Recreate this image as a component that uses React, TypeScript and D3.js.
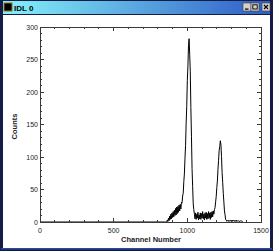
import React, {useEffect, useRef} from 'react';
import * as d3 from 'd3';

// spectrum: counts per channel, sampled every 4 channels from startChannel
const startChannel = 848;
const channelStep = 4;
const counts = [
  0, 0, 0, 0, 3, 1, 6, 2, 9, 4, 12, 5, 14, 7, 16, 8, 18, 10, 21, 11,
  23, 13, 24, 15, 26, 17, 27, 20, 30, 29, 40, 44, 62, 74, 98, 118, 152, 178, 218, 240,
  272, 282, 258, 232, 176, 132, 82, 55, 28, 19, 12, 5, 14, 4, 12, 6, 15, 3, 11, 5,
  14, 4, 13, 6, 16, 5, 12, 3, 14, 6, 15, 4, 13, 5, 16, 6, 14, 4, 15, 7,
  16, 8, 17, 12, 19, 22, 31, 39, 53, 63, 81, 95, 110, 116, 125, 119, 101, 76, 61, 44,
  31, 17, 11, 4, 3, 1, 2, 3, 1, 2, 1, 3, 2, 1, 3, 1, 2, 3, 1, 2,
  1, 3, 1, 2, 1, 2, 1, 1, 2, 1, 2, 1, 0,
];

const xTicks = [0, 500, 1000, 1500];
const yTicks = [0, 50, 100, 150, 200, 250, 300];
const xMinor = [100, 200, 300, 400, 600, 700, 800, 900, 1100, 1200, 1300, 1400];
const yMinor = [10, 20, 30, 40, 60, 70, 80, 90, 110, 120, 130, 140, 160, 170, 180, 190, 210, 220, 230, 240, 260, 270, 280, 290];

const windowTitle = 'IDL 0';
const xTitle = 'Channel Number';
const yTitle = 'Counts';

export default function App() {
  const svgRef = useRef(null);

  useEffect(() => {
    const svg = d3.select(svgRef.current);
    svg.selectAll('*').remove();
    const W = 273, H = 251;

    // window frame
    const defs = svg.append('defs');
    const grad = defs.append('linearGradient').attr('id', 'tb').attr('x1', 0).attr('x2', 1).attr('y1', 0).attr('y2', 0);
    grad.append('stop').attr('offset', '0%').attr('stop-color', '#84f2fa');
    grad.append('stop').attr('offset', '100%').attr('stop-color', '#2f5cc6');

    svg.append('rect').attr('width', W).attr('height', H).attr('fill', '#141d48');
    svg.append('rect').attr('x', 3).attr('y', 1).attr('width', W - 6).attr('height', 13).attr('fill', 'url(#tb)');
    svg.append('rect').attr('x', 3).attr('y', 15).attr('width', W - 6).attr('height', 233).attr('fill', '#fff');
    svg.append('rect').attr('x', 1).attr('y', 248).attr('width', W - 2).attr('height', 1.5).attr('fill', '#2c4a9c');

    // icon + title
    svg.append('rect').attr('x', 4).attr('y', 3).attr('width', 8).attr('height', 8).attr('fill', '#000').attr('stroke', '#a06a20').attr('stroke-width', 1);
    svg.append('text').attr('x', 14).attr('y', 11).attr('font-family', 'Liberation Sans, Arial, sans-serif')
      .attr('font-size', 8).attr('font-weight', 'bold').attr('fill', '#000').text(windowTitle);

    // title buttons
    const btns = [243, 251, 262];
    btns.forEach((bx, i) => {
      const g = svg.append('g').attr('transform', `translate(${bx},3)`);
      g.append('rect').attr('width', 8).attr('height', 8).attr('fill', '#d4d0c8').attr('stroke', '#404040').attr('stroke-width', 0.6);
      if (i === 0) g.append('rect').attr('x', 2).attr('y', 5.5).attr('width', 3.5).attr('height', 1.2).attr('fill', '#000');
      if (i === 1) g.append('rect').attr('x', 1.8).attr('y', 1.8).attr('width', 4.4).attr('height', 4.2).attr('fill', 'none').attr('stroke', '#000').attr('stroke-width', 0.9);
      if (i === 2) g.append('path').attr('d', 'M2,2L6,6M6,2L2,6').attr('stroke', '#000').attr('stroke-width', 1.1);
    });

    // plot
    const m = {l: 40, r: 261, t: 27, b: 222};
    const x = d3.scaleLinear().domain([0, 1500]).range([m.l, m.r]);
    const y = d3.scaleLinear().domain([0, 300]).range([m.b, m.t]);
    const axisColor = '#3a3a3a';
    const font = 'Liberation Sans, Arial, sans-serif';

    const data = [[0, 0]].concat(counts.map((c, i) => [startChannel + i * channelStep, c]));
    const line = d3.line().x(d => x(d[0])).y(d => y(d[1]));
    svg.append('path').datum(data).attr('d', line).attr('fill', 'none').attr('stroke', '#000').attr('stroke-width', 1);

    svg.append('rect').attr('x', m.l).attr('y', m.t).attr('width', m.r - m.l).attr('height', m.b - m.t)
      .attr('fill', 'none').attr('stroke', axisColor).attr('stroke-width', 1).attr('shape-rendering', 'crispEdges');

    const tk = svg.append('g').attr('stroke', axisColor).attr('stroke-width', 1).attr('shape-rendering', 'crispEdges');
    xTicks.forEach(v => {
      tk.append('line').attr('x1', x(v)).attr('x2', x(v)).attr('y1', m.b).attr('y2', m.b - 4);
      tk.append('line').attr('x1', x(v)).attr('x2', x(v)).attr('y1', m.t).attr('y2', m.t + 4);
    });
    xMinor.forEach(v => {
      tk.append('line').attr('x1', x(v)).attr('x2', x(v)).attr('y1', m.b).attr('y2', m.b - 2);
      tk.append('line').attr('x1', x(v)).attr('x2', x(v)).attr('y1', m.t).attr('y2', m.t + 2);
    });
    yTicks.forEach(v => {
      tk.append('line').attr('x1', m.l).attr('x2', m.l + 4).attr('y1', y(v)).attr('y2', y(v));
      tk.append('line').attr('x1', m.r).attr('x2', m.r - 4).attr('y1', y(v)).attr('y2', y(v));
    });
    yMinor.forEach(v => {
      tk.append('line').attr('x1', m.l).attr('x2', m.l + 2).attr('y1', y(v)).attr('y2', y(v));
      tk.append('line').attr('x1', m.r).attr('x2', m.r - 2).attr('y1', y(v)).attr('y2', y(v));
    });

    svg.selectAll('.xl').data(xTicks).enter().append('text')
      .attr('x', d => x(d)).attr('y', m.b + 11).attr('text-anchor', 'middle')
      .attr('font-family', font).attr('font-size', 7).attr('fill', '#222').text(d => d);
    svg.selectAll('.yl').data(yTicks).enter().append('text')
      .attr('x', m.l - 2).attr('y', d => y(d) + 2.5).attr('text-anchor', 'end')
      .attr('font-family', font).attr('font-size', 7).attr('fill', '#222').text(d => d);

    svg.append('text').attr('x', (m.l + m.r) / 2 + 0.5).attr('y', m.b + 20).attr('text-anchor', 'middle')
      .attr('font-family', font).attr('font-size', 7.5).attr('font-weight', 'bold').attr('fill', '#222').text(xTitle);
    svg.append('text').attr('transform', `translate(17,${(m.t + m.b) / 2 + 2}) rotate(-90)`).attr('text-anchor', 'middle')
      .attr('font-family', font).attr('font-size', 7.5).attr('font-weight', 'bold').attr('fill', '#222').text(yTitle);
  }, []);

  return (
    <svg ref={svgRef} width="273" height="251" style={{position: 'absolute', left: 0, top: 0}} />
  );
}
